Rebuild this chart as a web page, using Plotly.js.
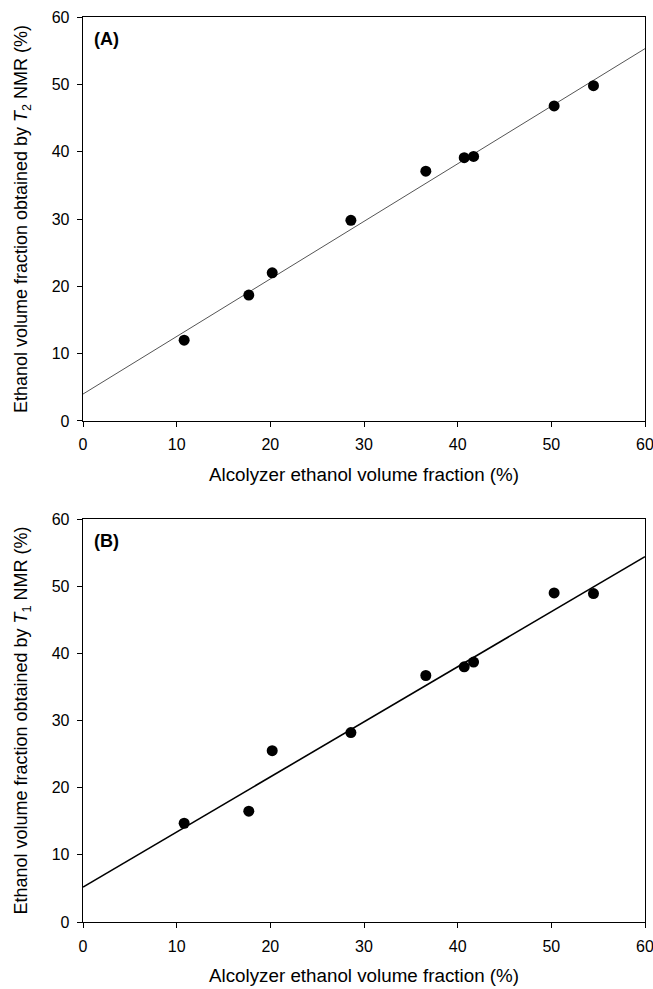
<!DOCTYPE html>
<html>
<head>
<meta charset="utf-8">
<script src="https://cdn.plot.ly/plotly-3.0.1.min.js"></script>
<style>html,body{margin:0;padding:0;background:#fff;}#chart{width:653px;height:989px;}</style>
</head>
<body>
<div id="chart"></div>
<script>
// Data
var alcolyzer = [10.8, 17.7, 20.2, 28.6, 36.6, 40.7, 41.7, 50.3, 54.5];
var nmrT2 = [12.0, 18.7, 22.0, 29.8, 37.1, 39.1, 39.3, 46.8, 49.8];
var nmrT1 = [14.7, 16.5, 25.5, 28.2, 36.7, 38.0, 38.7, 49.0, 48.9];
var fitX = [0, 60];
var fitT2 = [4.0, 55.3];
var fitT1 = [5.2, 54.4];
var tickVals = [0, 10, 20, 30, 40, 50, 60];
var tickText = ['0', '10', '20', '30', '40', '50', '60'];

var F = 'Liberation Sans, Arial, sans-serif';
var traces = [
  {x: fitX, y: fitT2, mode: 'lines', line: {color: '#555', width: 1}, xaxis: 'x', yaxis: 'y', hoverinfo: 'skip'},
  {x: alcolyzer, y: nmrT2, mode: 'markers', marker: {color: '#000', size: 11}, xaxis: 'x', yaxis: 'y'},
  {x: fitX, y: fitT1, mode: 'lines', line: {color: '#000', width: 1.6}, xaxis: 'x2', yaxis: 'y2', hoverinfo: 'skip'},
  {x: alcolyzer, y: nmrT1, mode: 'markers', marker: {color: '#000', size: 11}, xaxis: 'x2', yaxis: 'y2'}
];

function xAx(anchor) {
  return {
    range: [0, 60], tickvals: tickVals, ticktext: tickText, anchor: anchor,
    showgrid: false, zeroline: false, showline: true, linecolor: '#000', linewidth: 1.3,
    mirror: true, ticks: 'outside', ticklen: 5, tickcolor: '#000', tickwidth: 1,
    ticklabelstandoff: 4, ticklabeloverflow: 'allow',
    tickfont: {family: F, size: 16, color: '#000'},
    title: {text: 'Alcolyzer ethanol volume fraction (%)', font: {family: F, size: 18.8, color: '#000'}, standoff: 15}
  };
}
function yAx(anchor, domain, sub) {
  return {
    range: [0, 60], tickvals: tickVals, ticktext: tickText, anchor: anchor, domain: domain,
    showgrid: false, zeroline: false, showline: true, linecolor: '#000', linewidth: 1.3,
    mirror: true, ticks: 'outside', ticklen: 5, tickcolor: '#000', tickwidth: 1,
    ticklabelstandoff: 4, ticklabeloverflow: 'allow',
    tickfont: {family: F, size: 16, color: '#000'},
    title: {text: 'Ethanol volume fraction obtained by <i>T</i><sub>' + sub + '</sub> NMR (%)', font: {family: F, size: 18, color: '#000'}, standoff: 19}
  };
}

var layout = {
  width: 653, height: 989,
  margin: {l: 83, r: 8, t: 17, b: 67},
  paper_bgcolor: '#fff', plot_bgcolor: '#fff',
  showlegend: false,
  xaxis: xAx('y'),
  yaxis: yAx('x', [0.5536, 1], '2'),
  xaxis2: xAx('y2'),
  yaxis2: yAx('x2', [0, 0.4453], '1'),
  annotations: [
    {text: '<b>(A)</b>', xref: 'x', yref: 'y', x: 1.0, y: 56.7, xanchor: 'left', yanchor: 'middle', showarrow: false, font: {family: F, size: 18, color: '#000'}},
    {text: '<b>(B)</b>', xref: 'x2', yref: 'y2', x: 1.0, y: 56.7, xanchor: 'left', yanchor: 'middle', showarrow: false, font: {family: F, size: 18, color: '#000'}}
  ]
};

Plotly.newPlot('chart', traces, layout, {staticPlot: true, displayModeBar: false});
</script>
</body>
</html>
